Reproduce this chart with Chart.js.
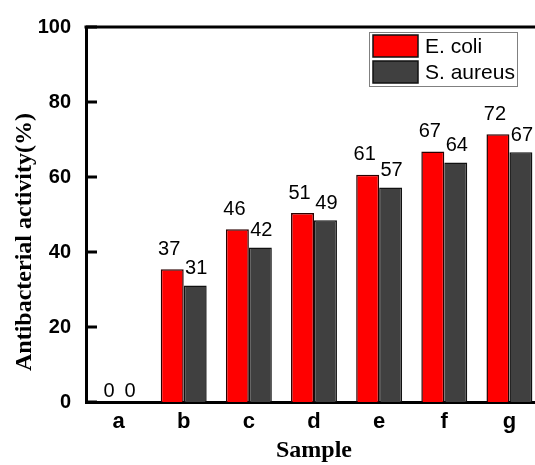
<!DOCTYPE html>
<html>
<head>
<meta charset="utf-8">
<script src="https://cdn.jsdelivr.net/npm/chart.js@4.4.1/dist/chart.umd.min.js"></script>
<style>
  html, body { margin: 0; padding: 0; background: #fff; overflow: hidden; }
  #wrap { position: absolute; left: 0; top: 0; width: 545px; height: 465px; }
</style>
</head>
<body>
<div id="wrap"><canvas id="myChart" width="545" height="465"></canvas></div>
<script>
// data
var samples = ["a", "b", "c", "d", "e", "f", "g"];
var ecoli = [0, 35.4, 46.1, 50.4, 60.6, 66.8, 71.4];
var saureus = [0, 31.1, 41.2, 48.5, 57.2, 63.9, 66.6];
// printed numbers above the bars
var ecoliText = ["0", "37", "46", "51", "61", "67", "72"];
var saureusText = ["0", "31", "42", "49", "57", "64", "67"];
var yTicks = [0, 20, 40, 60, 80, 100];

var SANS = "Arial, 'Liberation Sans', sans-serif";
var SERIF = "'Times New Roman', 'Liberation Serif', serif";

// numbers above bars
var barText = {
    id: "barText",
    afterDatasetsDraw(chart) {
        var ctx = chart.ctx;
        ctx.save();
        ctx.font = "20px " + SANS;
        ctx.fillStyle = "#000";
        ctx.textAlign = "center";
        ctx.textBaseline = "bottom";
        chart.data.datasets.forEach((ds, i) => {
            var meta = chart.getDatasetMeta(i);
            meta.data.forEach((bar, j) => {
                var up = ds.data[j] > 0 ? (i === 0 ? 10 : 7) : 1;
                var dx = ds.data[j] > 0 ? (i === 0 ? -3 : 1) : (i === 0 ? 2 : 0);
                ctx.fillText(ds.texts[j], bar.x + dx, bar.y - up);
            });
        });
        ctx.restore();
    }
};

// frame top line, inward ticks, y title, legend
var frame = {
    id: "frame",
    afterDraw(chart) {
        var ctx = chart.ctx;
        var a = chart.chartArea;
        var y = chart.scales.y;
        ctx.save();
        ctx.strokeStyle = "#000";
        ctx.lineWidth = 3;
        ctx.beginPath();
        ctx.moveTo(a.left - 1.5, a.top);
        ctx.lineTo(a.right + 5, a.top);
        ctx.stroke();
        yTicks.forEach(v => {
            var py = y.getPixelForValue(v);
            ctx.beginPath();
            ctx.moveTo(a.left, py);
            ctx.lineTo(a.left + 11, py);
            ctx.stroke();
        });

        // y axis title
        ctx.save();
        ctx.translate(25, 242);
        ctx.rotate(-Math.PI / 2);
        ctx.font = "bold 24px " + SERIF;
        ctx.textAlign = "center";
        ctx.textBaseline = "middle";
        ctx.fillStyle = "#000";
        ctx.fillText("Antibacterial activity(%)", 0, 0);
        ctx.restore();

        // legend box
        var lx = 369, ly = 32, lw = 148, lh = 54;
        ctx.fillStyle = "#fff";
        ctx.fillRect(lx, ly, lw, lh);
        ctx.lineWidth = 1;
        ctx.strokeStyle = "#808080";
        ctx.strokeRect(lx + 0.5, ly + 0.5, lw, lh);
        ctx.font = "21px " + SANS;
        ctx.textAlign = "left";
        ctx.textBaseline = "middle";
        chart.data.datasets.forEach((ds, i) => {
            var sy = ly + 3 + i * 26;
            ctx.fillStyle = ds.backgroundColor;
            ctx.fillRect(lx + 4, sy, 45, 22);
            ctx.lineWidth = 1.5;
            ctx.strokeStyle = "#111";
            ctx.strokeRect(lx + 4, sy, 45, 22);
            ctx.fillStyle = "#000";
            ctx.fillText(ds.label, lx + 56, sy + 12);
        });
        ctx.restore();
    }
};

var myChart = new Chart(document.getElementById("myChart"), {
    type: "bar",
    data: {
        labels: samples,
        datasets: [{
            label: "E. coli",
            data: ecoli,
            texts: ecoliText,
            backgroundColor: "#ff0000",
            borderColor: "#2a0000",
            borderWidth: 1.5
        }, {
            label: "S. aureus",
            data: saureus,
            texts: saureusText,
            backgroundColor: "#404040",
            borderColor: "#111111",
            borderWidth: 1.5
        }]
    },
    options: {
        responsive: false,
        animation: false,
        devicePixelRatio: 1,
        layout: { padding: { top: 23, right: 3, left: 0, bottom: 0 } },
        datasets: { bar: { categoryPercentage: 0.705, barPercentage: 1 } },
        plugins: { legend: { display: false }, tooltip: { enabled: false } },
        scales: {
            x: {
                z: 1,
                offset: true,
                grid: { display: false, drawTicks: false },
                border: { display: true, color: "#000", width: 3 },
                ticks: { color: "#000", padding: 7, font: { family: SANS, size: 22, weight: "bold" } },
                title: {
                    display: true,
                    text: "Sample",
                    color: "#000",
                    padding: { top: 0, bottom: 0 },
                    font: { family: SERIF, size: 24, weight: "bold" }
                },
                afterFit(s) { s.height = 63; }
            },
            y: {
                z: 1,
                min: 0,
                max: 100,
                grid: { display: false, drawTicks: false },
                border: { display: true, color: "#000", width: 3 },
                ticks: {
                    stepSize: 20,
                    padding: 15,
                    color: "#000",
                    font: { family: SANS, size: 20, weight: "bold" }
                },
                afterFit(s) { s.width = 86; }
            }
        }
    },
    plugins: [barText, frame]
});
</script>
</body>
</html>
